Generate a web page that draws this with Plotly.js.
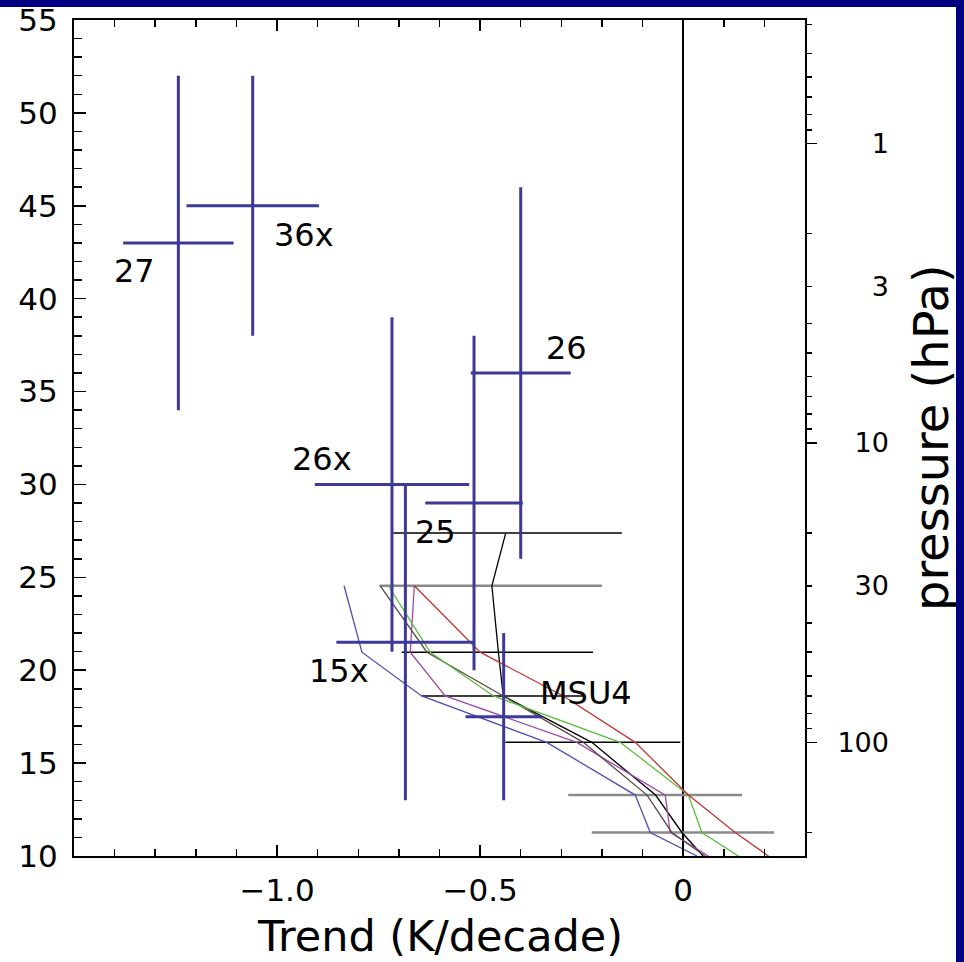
<!DOCTYPE html>
<html><head><meta charset="utf-8">
<script src="https://cdn.plot.ly/plotly-3.0.1.min.js"></script>
<style>
html,body{margin:0;padding:0;background:#fff;width:964px;height:962px;overflow:hidden;}
#chart{position:absolute;left:0;top:0;width:964px;height:962px;}
.band{position:absolute;background:#000080;}
</style></head><body><div id="chart"></div>
<div class="band" style="left:0;top:0;width:964px;height:7px;"></div>
<div class="band" style="left:956px;top:0;width:8px;height:962px;"></div>
<script>
// ---- data ----
// profiles: trend (K/decade) at pressure levels, then at the 10 km bottom edge
const profilePressure = [30, 50, 70, 100, 150, 200];
const bottomKm = 10;
const blueTrend   = [-0.835, -0.791, -0.644, -0.336, -0.118, -0.081, 0.034];
const purpleTrend = [-0.662, -0.672, -0.586, -0.262, -0.044, -0.032, 0.062];
const brownTrend  = [-0.746, -0.631, -0.443, -0.246, -0.089, -0.028, 0.054];
const greenTrend  = [-0.726, -0.623, -0.467, -0.155, 0.013, 0.046, 0.136];
const redTrend    = [-0.662, -0.500, -0.295, -0.118, 0.013, 0.128, 0.210];

// radiosonde profile with its uncertainty bars
const sondePressure = [20, 30, 50, 70, 100, 150, 200];
const sondeTrend = [-0.437, -0.471, -0.455, -0.443, -0.225, -0.068, -0.003, 0.049];
const sondeLo    = [-0.714, -0.748, -0.693, -0.644, -0.438, -0.283, -0.225];
const sondeHi    = [-0.151, -0.200, -0.222, -0.240, -0.007, 0.145, 0.224];
const sondeBarGrey = [false, true, false, false, false, true, true];

// satellite channel crosses
const crossLabel     = ['27', '36x', '26', '26x', '25', '15x', 'MSU4'];
const crossTrend     = [-1.243, -1.060, -0.400, -0.717, -0.515, -0.684, -0.442];
const crossTrendErr  = [0.136, 0.163, 0.123, 0.190, 0.120, 0.170, 0.094];
const crossHeight    = [43.0, 45.0, 36.0, 30.0, 29.0, 21.5, 17.5];
const crossHeightErr = [9.0, 7.0, 10.0, 9.0, 9.0, 8.5, 4.5];
const labelTrend     = [-1.350, -0.933, -0.288, -0.889, -0.610, -0.847, -0.239];
const labelHeight    = [41.5, 43.45, 37.35, 31.35, 27.45, 19.95, 18.8];

// axes
const trendTickVals = [-1.0, -0.5, 0];
const trendTickText = ['\u22121.0', '\u22120.5', '0'];
const heightTickVals = [10, 15, 20, 25, 30, 35, 40, 45, 50, 55];
const pressureLabels = [1, 3, 10, 30, 100];
const pressureLabelText = ['\u2007\u20071', '\u2007\u20073', '\u200710', '\u200730', '100'];
const pressureMinor = [0.4, 0.5, 0.6, 0.7, 0.8, 0.9, 2, 4, 5, 6, 7, 8, 9, 20, 40, 50, 60, 70, 80, 90, 200];
const pressureLong = [1, 10, 100];
const xTitle = 'Trend (K/decade)';
const rightTitle = 'pressure (hPa)';

// ---- helpers ----
const scaleHeightKm = 7, surfaceP = 1000;
const km = p => scaleHeightKm * Math.log(surfaceP / p);
const profileKm = profilePressure.map(km).concat([bottomKm]);
const sondeKm = sondePressure.map(km).concat([bottomKm]);

function profile(tr, color) {
  return {x: tr, y: profileKm, mode: 'lines', type: 'scatter',
          line: {color: color, width: 1.3}, hoverinfo: 'skip', showlegend: false};
}
function bars(grey) {
  const xs = [], ys = [];
  sondePressure.forEach((p, i) => {
    if (sondeBarGrey[i] === grey) {
      xs.push(sondeLo[i], sondeHi[i], null);
      ys.push(km(p), km(p), null);
    }
  });
  return {x: xs, y: ys, mode: 'lines', type: 'scatter', showlegend: false, hoverinfo: 'skip',
          line: {color: grey ? '#8a8a8a' : '#000000', width: grey ? 2.6 : 1.5}};
}
const crossColor = '#3d3996';
const traces = [
  bars(true), bars(false),
  {x: sondeTrend, y: sondeKm, mode: 'lines', type: 'scatter', line: {color: '#000', width: 1.3}, showlegend: false},
  profile(blueTrend, '#4f4fb3'),
  profile(purpleTrend, '#a04aa6'),
  profile(brownTrend, '#5a4848'),
  profile(greenTrend, '#5cbd3c'),
  profile(redTrend, '#c23434'),
  {x: crossTrend, y: crossHeight, mode: 'markers', type: 'scatter', showlegend: false,
   marker: {size: 1, color: crossColor},
   error_x: {type: 'data', array: crossTrendErr, width: 0, thickness: 3, color: crossColor},
   error_y: {type: 'data', array: crossHeightErr, width: 0, thickness: 3, color: crossColor}}
];

const font = 'DejaVu Sans';
const annotations = crossLabel.map((t, i) => ({
  x: labelTrend[i], y: labelHeight[i], xref: 'x', yref: 'y', text: t, showarrow: false,
  xanchor: 'center', yanchor: 'middle', font: {family: font, size: 32, color: '#000'}
}));
annotations.push({x: 0.5, y: -0.0956, xref: 'paper', yref: 'paper', text: xTitle, showarrow: false,
  xanchor: 'center', yanchor: 'middle', font: {family: font, size: 43, color: '#000'}});
annotations.push({x: 1.1724, y: 0.5, xref: 'paper', yref: 'paper', text: rightTitle, showarrow: false,
  textangle: -90, xanchor: 'center', yanchor: 'middle', font: {family: font, size: 48, color: '#000'}});

const layout = {
  width: 964, height: 962,
  margin: {l: 74, r: 159, t: 20, b: 106, pad: 0},
  paper_bgcolor: '#fff', plot_bgcolor: '#fff',
  showlegend: false,
  font: {family: font, color: '#000'},
  xaxis: {
    range: [-1.5, 0.3], showgrid: false, zeroline: true, zerolinecolor: '#000', zerolinewidth: 1.5,
    showline: true, linecolor: '#000', linewidth: 2, mirror: 'ticks',
    ticks: 'inside', ticklen: 11, tickwidth: 1.5, tickcolor: '#000',
    tickmode: 'array', tickvals: trendTickVals, ticktext: trendTickText,
    minor: {tickmode: 'linear', tick0: 0, dtick: 0.1, ticks: 'inside', ticklen: 7, tickwidth: 1.5, tickcolor: '#000'},
    tickfont: {family: font, size: 31, color: '#000'}, ticklabelstandoff: 6,
    ticklabeloverflow: 'allow', automargin: false
  },
  yaxis: {
    range: [10, 55], showgrid: false, zeroline: false,
    showline: true, linecolor: '#000', linewidth: 2,
    ticks: 'inside', ticklen: 12, tickwidth: 1.5, tickcolor: '#000',
    tickmode: 'array', tickvals: heightTickVals,
    minor: {tickmode: 'linear', tick0: 10, dtick: 1, ticks: 'inside', ticklen: 8, tickwidth: 1.5, tickcolor: '#000'},
    tickfont: {family: font, size: 31, color: '#000'}, ticklabelstandoff: 8,
    ticklabeloverflow: 'allow', automargin: false
  },
  yaxis2: {
    overlaying: 'y', side: 'right', anchor: 'x', range: [10, 55],
    showgrid: false, zeroline: false, showline: true, linecolor: '#000', linewidth: 2,
    ticks: 'outside', ticklen: 5, tickwidth: 1.5, tickcolor: '#000',
    tickmode: 'array', tickvals: pressureLabels.map(km), ticktext: pressureLabelText,
    minor: {tickmode: 'array', tickvals: pressureMinor.map(km), ticks: 'outside', ticklen: 5, tickwidth: 1.5, tickcolor: '#000'},
    tickfont: {family: font, size: 27, color: '#000'}, ticklabelstandoff: 20,
    ticklabeloverflow: 'allow', automargin: false
  },
  yaxis3: {
    overlaying: 'y', side: 'right', anchor: 'x', range: [10, 55],
    showgrid: false, zeroline: false, showline: false, showticklabels: false,
    ticks: 'outside', ticklen: 11, tickwidth: 1.5, tickcolor: '#000',
    tickmode: 'array', tickvals: pressureLong.map(km)
  },
  annotations: annotations
};
// invisible traces so yaxis2/yaxis3 are drawn
traces.push({x: [null], y: [null], yaxis: 'y2', type: 'scatter', showlegend: false, hoverinfo: 'skip'});
traces.push({x: [null], y: [null], yaxis: 'y3', type: 'scatter', showlegend: false, hoverinfo: 'skip'});

Plotly.newPlot('chart', traces, layout, {displayModeBar: false, staticPlot: true});
</script></body></html>
